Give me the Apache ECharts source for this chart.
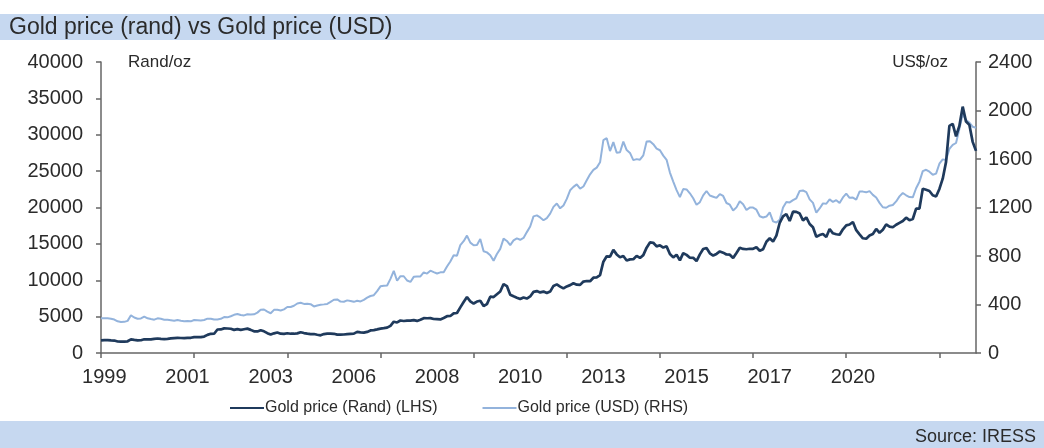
<!DOCTYPE html>
<html>
<head>
<meta charset="utf-8">
<script src="https://cdn.jsdelivr.net/npm/echarts@6/dist/echarts.min.js"></script>
<style>
  html, body { margin: 0; padding: 0; background: #ffffff; }
  #chart { width: 1044px; height: 448px; }
</style>
</head>
<body>
<div id="chart"></div>
<script>
// Monthly averages, Jan 1999 - Dec 2020
const firstYear = 1999;
const lastYear = 2020;

// Gold price in rand per ounce (left axis)
const goldRand = [
  1740,1780,1780,1730,1710,1580,1560,1570,1610,1880,1800,1740,
  1750,1890,1870,1870,1940,1990,1930,1910,1950,2010,2050,2070,
  2060,2040,2080,2090,2180,2170,2190,2260,2490,2640,2650,3230,
  3240,3380,3370,3330,3180,3290,3180,3270,3350,3180,2980,2960,
  3140,2980,2730,2530,2700,2810,2650,2630,2710,2650,2650,2700,
  2860,2740,2660,2600,2610,2510,2430,2600,2660,2670,2640,2520,
  2520,2540,2600,2640,2660,2910,2840,2800,2900,3100,3150,3240,
  3350,3410,3480,3730,4300,4200,4470,4400,4460,4450,4520,4410,
  4580,4790,4780,4790,4670,4650,4620,4820,5060,5090,5440,5500,
  6270,7010,7700,7100,6800,7070,7190,6460,6720,7740,7690,8080,
  8460,9480,9200,8010,7800,7610,7430,7640,7480,7770,8400,8510,
  8330,8440,8240,8440,9220,9430,9130,8880,9150,9330,9590,9390,
  9360,9820,9900,9870,10350,10400,10700,12550,13290,13240,14170,13550,
  13170,13330,12720,12870,12890,13350,13070,13450,14480,15200,15150,14660,
  14800,14490,14660,13610,13150,13500,12730,13720,13490,13100,13080,12640,
  13560,14300,14430,13700,13400,13620,13960,13790,13540,13510,13050,13750,
  14460,14300,14260,14330,14320,14530,14050,14250,15300,15770,15320,16140,
  17900,18770,19110,18140,19420,19400,19180,18230,18640,17730,17280,15970,
  16210,16350,15950,17040,16450,16320,16260,17000,17540,17660,18010,16880,
  16310,15770,15700,16150,16360,17050,16530,16940,17680,17380,17280,17630,
  17890,18150,18600,18260,18420,19840,19850,22580,22430,22270,21680,21520,
  22550,23960,26270,31220,31490,29790,31210,33860,31810,31360,29020,27780
];

// Gold price in US dollars per ounce (right axis)
const goldUsd = [
  287,287,286,282,276,261,256,257,265,311,293,283,
  285,300,286,280,275,286,282,275,274,270,266,272,
  266,262,263,261,272,270,268,272,283,283,276,276,
  282,296,294,303,315,321,313,310,319,317,319,333,
  357,359,341,328,356,357,351,360,379,379,390,408,
  414,405,407,403,384,392,398,401,405,421,439,442,
  424,423,434,429,422,431,425,438,456,470,477,510,
  550,555,557,611,677,596,634,633,598,586,628,630,
  631,665,655,679,667,656,665,665,713,755,806,803,
  890,922,968,910,889,890,940,839,830,807,761,816,
  859,943,924,890,929,946,934,949,997,1043,1127,1135,
  1118,1095,1113,1149,1205,1233,1193,1216,1271,1342,1370,1391,
  1356,1373,1424,1474,1510,1529,1573,1756,1772,1665,1739,1652,
  1656,1743,1674,1650,1591,1599,1594,1630,1745,1747,1722,1685,
  1672,1628,1593,1488,1414,1343,1286,1352,1349,1317,1276,1222,
  1244,1300,1336,1299,1289,1279,1311,1295,1237,1223,1175,1201,
  1252,1227,1179,1199,1199,1182,1128,1118,1125,1159,1086,1076,
  1098,1200,1245,1242,1261,1276,1337,1340,1327,1267,1238,1157,
  1192,1234,1231,1267,1246,1260,1237,1283,1314,1280,1282,1265,
  1331,1331,1325,1335,1304,1282,1238,1202,1198,1215,1221,1250,
  1292,1320,1301,1286,1284,1359,1413,1500,1511,1495,1470,1479,
  1561,1597,1592,1683,1716,1732,1847,1969,1922,1900,1866,1858
];

// Year labels shown under the date axis
const yearLabels = ['1999','2001','2003','2006','2008','2010','2013','2015','2017','2020'];

const seriesNames = ['Gold price (Rand) (LHS)', 'Gold price (USD) (RHS)'];

// Month categories
const months = [];
for (let y = firstYear; y <= lastYear; y++) {
  for (let m = 1; m <= 12; m++) months.push(y + '-' + (m < 10 ? '0' + m : m));
}

const TICK_STEP = 28;   // months between axis tick marks
const LABEL_STEP = 25;  // months between year labels
const LABEL_START = 1;  // month index of the first year label

const FONT = "'Liberation Sans', Arial, sans-serif";
const AXIS_COLOR = '#666666';
const TEXT_COLOR = '#2b2b2b';
const BAND_COLOR = '#c6d8f0';

const gridBox = { left: 101, right: 68, top: 62, bottom: 95 };

const plain = (v) => String(v);

const chart = echarts.init(document.getElementById('chart'), null, { renderer: 'canvas' });

chart.setOption({
  backgroundColor: '#ffffff',
  animation: false,
  textStyle: { fontFamily: FONT },
  graphic: [
    { type: 'rect', left: 0, top: 14, shape: { width: 1044, height: 26 }, style: { fill: BAND_COLOR }, z: -1 },
    { type: 'rect', left: 0, top: 421, shape: { width: 1044, height: 27 }, style: { fill: BAND_COLOR }, z: -1 }
  ],
  title: [
    {
      text: 'Gold price (rand) vs Gold price (USD)',
      left: 9, top: 16, padding: 0,
      textStyle: { fontFamily: FONT, fontSize: 23, fontWeight: 'normal', color: TEXT_COLOR }
    },
    {
      text: 'Source: IRESS',
      right: 8, top: 428, padding: 0,
      textStyle: { fontFamily: FONT, fontSize: 18, fontWeight: 'normal', color: TEXT_COLOR }
    }
  ],
  legend: {
    data: seriesNames,
    left: 225, top: 395,
    itemWidth: 34, itemHeight: 12, itemGap: 45,
    icon: 'path://M0,5 L34,5 L34,7 L0,7 Z',
    textStyle: { fontFamily: FONT, fontSize: 16, color: TEXT_COLOR, padding: [0, 0, 0, -4] }
  },
  grid: [
    Object.assign({}, gridBox),
    Object.assign({}, gridBox)
  ],
  xAxis: [
    {
      gridIndex: 0,
      type: 'category',
      data: months,
      boundaryGap: false,
      axisLine: { lineStyle: { color: AXIS_COLOR, width: 1.5 } },
      axisTick: { interval: (i) => i % TICK_STEP === 0, length: 5, lineStyle: { color: AXIS_COLOR, width: 1.5 } },
      axisLabel: { show: false },
      splitLine: { show: false }
    },
    {
      gridIndex: 1,
      type: 'category',
      data: months,
      boundaryGap: false,
      axisLine: { show: false },
      axisTick: { show: false },
      splitLine: { show: false },
      axisLabel: {
        interval: (i) => (i - LABEL_START) % LABEL_STEP === 0 && (i - LABEL_START) / LABEL_STEP < yearLabels.length,
        formatter: (v, i) => yearLabels[(i - LABEL_START) / LABEL_STEP],
        fontFamily: FONT, fontSize: 20, color: TEXT_COLOR, margin: 14
      }
    }
  ],
  yAxis: [
    {
      gridIndex: 0,
      type: 'value',
      min: 0, max: 40000, interval: 5000,
      name: 'Rand/oz',
      nameLocation: 'end',
      nameGap: 0,
      nameTextStyle: { fontFamily: FONT, fontSize: 17, color: TEXT_COLOR, align: 'left', verticalAlign: 'middle', padding: [0, 0, 0, 27] },
      axisLine: { show: true, lineStyle: { color: AXIS_COLOR, width: 1.5 } },
      axisTick: { show: true, length: 5, lineStyle: { color: AXIS_COLOR, width: 1.5 } },
      splitLine: { show: false },
      axisLabel: { formatter: plain, fontFamily: FONT, fontSize: 20, color: TEXT_COLOR, margin: 18 }
    },
    {
      gridIndex: 0,
      type: 'value',
      position: 'right',
      min: 0, max: 2400, interval: 400,
      name: 'US$/oz',
      nameLocation: 'end',
      nameGap: 0,
      nameTextStyle: { fontFamily: FONT, fontSize: 17, color: TEXT_COLOR, align: 'right', verticalAlign: 'middle', padding: [0, 28, 0, 0] },
      axisLine: { show: true, lineStyle: { color: AXIS_COLOR, width: 1.5 } },
      axisTick: { show: true, length: 5, lineStyle: { color: AXIS_COLOR, width: 1.5 } },
      splitLine: { show: false },
      axisLabel: { formatter: plain, fontFamily: FONT, fontSize: 20, color: TEXT_COLOR, margin: 12 }
    },
    {
      gridIndex: 1,
      type: 'value',
      min: 0, max: 1,
      show: false
    }
  ],
  series: [
    {
      name: seriesNames[1],
      type: 'line',
      xAxisIndex: 0, yAxisIndex: 1,
      data: goldUsd,
      showSymbol: false, symbol: 'none',
      lineStyle: { color: '#93b3dc', width: 2 },
      itemStyle: { color: '#93b3dc' },
      z: 2
    },
    {
      name: seriesNames[0],
      type: 'line',
      xAxisIndex: 0, yAxisIndex: 0,
      data: goldRand,
      showSymbol: false, symbol: 'none',
      lineStyle: { color: '#1f3a5c', width: 2.7 },
      itemStyle: { color: '#1f3a5c' },
      z: 3
    }
  ]
});
</script>
</body>
</html>
